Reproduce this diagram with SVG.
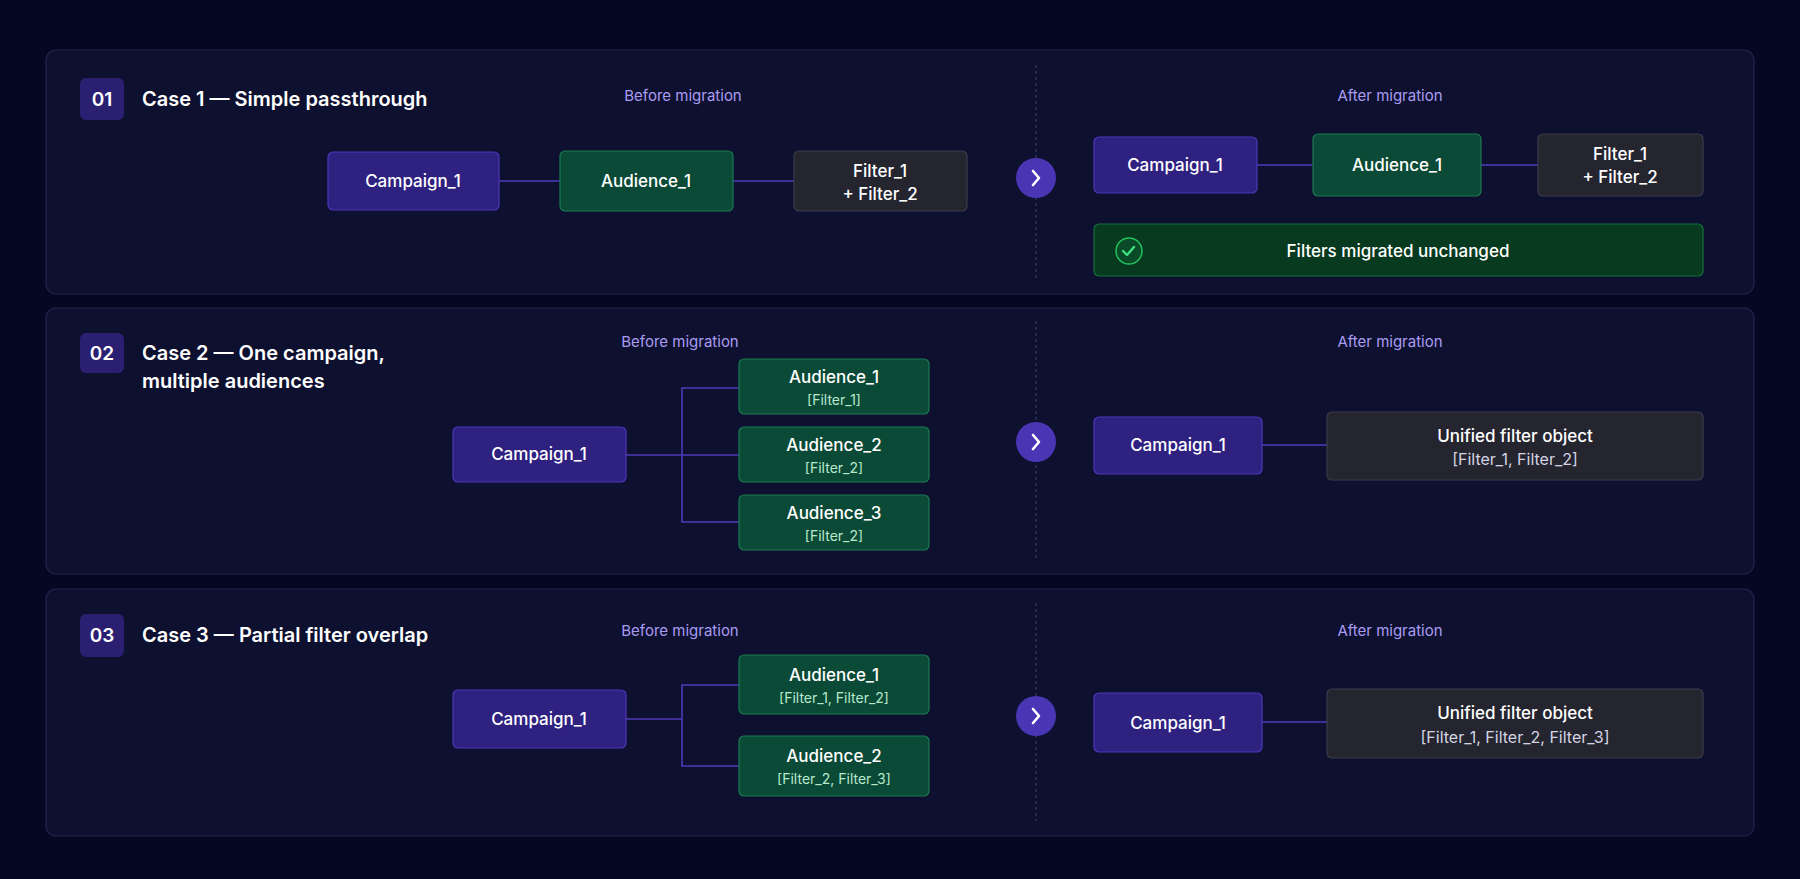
<svg xmlns="http://www.w3.org/2000/svg" width="1800" height="879" viewBox="0 0 1800 879">
<defs>
<style>
text{font-family:Inter,"Noto Sans",sans-serif}
.card{fill:#0e1030;stroke:#22244a;stroke-width:1.2}
.badge{fill:#2b1f72}
.bt{fill:#fff;font-size:19px;font-weight:600;text-anchor:middle}
.title{fill:#fff;font-size:20px;font-weight:600}
.hd{fill:#a99cf0;font-size:15px;text-anchor:middle}
.div{stroke:#3a3d66;stroke-width:1;stroke-dasharray:3 3}
.p{fill:#2f2180;stroke:#4b37b8;stroke-width:1.2}
.g{fill:#0b4a36;stroke:#1b7a52;stroke-width:1.2}
.k{fill:#24252f;stroke:#3b3c4a;stroke-width:1.2}
.nt{fill:#fff;font-size:17px;font-weight:500;text-anchor:middle}
.st{fill:#b7e9cc;font-size:14px;text-anchor:middle}
.su{fill:#d4d4e4;font-size:16px;text-anchor:middle}
.ln{stroke:#4d3ab8;stroke-width:1.6;fill:none}
.arc{fill:#4a36b5}
.chev{stroke:#fff;stroke-width:2.6;fill:none;stroke-linecap:round;stroke-linejoin:round}
</style>
</defs>
<rect width="1800" height="879" fill="#060823"/>
<g id="card1">
<rect class="card" x="46" y="50" width="1708" height="244" rx="10"/>
<rect class="badge" x="80" y="78" width="44" height="42" rx="6"/><text class="bt" x="102" y="106">01</text>
<text class="title" x="142" y="106">Case 1 — Simple passthrough</text>
<text class="hd" x="683" y="101">Before migration</text>
<text class="hd" x="1390" y="101">After migration</text>
<line class="div" x1="1036" y1="65" x2="1036" y2="279"/>
</g>
<g id="card2">
<rect class="card" x="46" y="308" width="1708" height="266" rx="10"/>
<rect class="badge" x="80" y="333" width="44" height="40" rx="6"/><text class="bt" x="102" y="360">02</text>
<text class="title" x="142" y="360">Case 2 — One campaign,</text>
<text class="title" x="142" y="388">multiple audiences</text>
<text class="hd" x="680" y="347">Before migration</text>
<text class="hd" x="1390" y="347">After migration</text>
<line class="div" x1="1036" y1="321" x2="1036" y2="560"/>
</g>
<g id="card3">
<rect class="card" x="46" y="589" width="1708" height="247" rx="10"/>
<rect class="badge" x="80" y="614" width="44" height="43" rx="6"/><text class="bt" x="102" y="642">03</text>
<text class="title" x="142" y="642">Case 3 — Partial filter overlap</text>
<text class="hd" x="680" y="636">Before migration</text>
<text class="hd" x="1390" y="636">After migration</text>
<line class="div" x1="1036" y1="603" x2="1036" y2="821"/>
</g>
<g id="connectors">
<line class="ln" x1="499" y1="181" x2="560" y2="181"/>
<line class="ln" x1="733" y1="181" x2="794" y2="181"/>
<line class="ln" x1="1257" y1="165" x2="1313" y2="165"/>
<line class="ln" x1="1481" y1="165" x2="1538" y2="165"/>
<path class="ln" d="M626 455H682M739 388H682V522H739M682 455H739"/>
<line class="ln" x1="1262" y1="445" x2="1327" y2="445"/>
<path class="ln" d="M626 719H682M739 685H682V766H739"/>
<line class="ln" x1="1262" y1="722" x2="1327" y2="722"/>
</g>
<g id="arrow1"><circle class="arc" cx="1036" cy="178" r="20"/><path class="chev" d="M1033 171l6 7-6 7"/></g>
<g id="arrow2"><circle class="arc" cx="1036" cy="442" r="20"/><path class="chev" d="M1033 435l6 7-6 7"/></g>
<g id="arrow3"><circle class="arc" cx="1036" cy="716" r="20"/><path class="chev" d="M1033 709l6 7-6 7"/></g>
<g id="c1-campaign"><rect class="p" x="328" y="152" width="171" height="58" rx="5"/><text class="nt" x="413" y="187">Campaign_1</text></g>
<g id="c1-audience"><rect class="g" x="560" y="151" width="173" height="60" rx="5"/><text class="nt" x="646" y="187">Audience_1</text></g>
<g id="c1-filter"><rect class="k" x="794" y="151" width="173" height="60" rx="5"/><text class="nt" x="880" y="177">Filter_1</text><text class="nt" x="880" y="200">+ Filter_2</text></g>
<g id="c1-after-campaign"><rect class="p" x="1094" y="137" width="163" height="56" rx="5"/><text class="nt" x="1175" y="171">Campaign_1</text></g>
<g id="c1-after-audience"><rect class="g" x="1313" y="134" width="168" height="62" rx="5"/><text class="nt" x="1397" y="171">Audience_1</text></g>
<g id="c1-after-filter"><rect class="k" x="1538" y="134" width="165" height="62" rx="5"/><text class="nt" x="1620" y="160">Filter_1</text><text class="nt" x="1620" y="183">+ Filter_2</text></g>
<g id="c1-banner"><rect x="1094" y="224" width="609" height="52" rx="5" fill="#073a1e" stroke="#15703a" stroke-width="1.2"/>
<circle cx="1129" cy="251" r="13" fill="#0a4a28" stroke="#22c55e" stroke-width="1.4"/><path d="M1123 251l4 4 7-8" stroke="#3ee07f" stroke-width="2.4" fill="none" stroke-linecap="round" stroke-linejoin="round"/>
<text class="nt" x="1398" y="257">Filters migrated unchanged</text></g>
<g id="c2-campaign"><rect class="p" x="453" y="427" width="173" height="55" rx="5"/><text class="nt" x="539" y="460">Campaign_1</text></g>
<g id="c2-aud1"><rect class="g" x="739" y="359" width="190" height="55" rx="5"/><text class="nt" x="834" y="383">Audience_1</text><text class="st" x="834" y="405">[Filter_1]</text></g>
<g id="c2-aud2"><rect class="g" x="739" y="427" width="190" height="55" rx="5"/><text class="nt" x="834" y="451">Audience_2</text><text class="st" x="834" y="473">[Filter_2]</text></g>
<g id="c2-aud3"><rect class="g" x="739" y="495" width="190" height="55" rx="5"/><text class="nt" x="834" y="519">Audience_3</text><text class="st" x="834" y="541">[Filter_2]</text></g>
<g id="c2-after-campaign"><rect class="p" x="1094" y="417" width="168" height="57" rx="5"/><text class="nt" x="1178" y="451">Campaign_1</text></g>
<g id="c2-unified"><rect class="k" x="1327" y="412" width="376" height="68" rx="5"/><text class="nt" x="1515" y="442">Unified filter object</text><text class="su" x="1515" y="465">[Filter_1, Filter_2]</text></g>
<g id="c3-campaign"><rect class="p" x="453" y="690" width="173" height="58" rx="5"/><text class="nt" x="539" y="725">Campaign_1</text></g>
<g id="c3-aud1"><rect class="g" x="739" y="655" width="190" height="59" rx="5"/><text class="nt" x="834" y="681">Audience_1</text><text class="st" x="834" y="703">[Filter_1, Filter_2]</text></g>
<g id="c3-aud2"><rect class="g" x="739" y="736" width="190" height="60" rx="5"/><text class="nt" x="834" y="762">Audience_2</text><text class="st" x="834" y="784">[Filter_2, Filter_3]</text></g>
<g id="c3-after-campaign"><rect class="p" x="1094" y="693" width="168" height="59" rx="5"/><text class="nt" x="1178" y="729">Campaign_1</text></g>
<g id="c3-unified"><rect class="k" x="1327" y="689" width="376" height="69" rx="5"/><text class="nt" x="1515" y="719">Unified filter object</text><text class="su" x="1515" y="743">[Filter_1, Filter_2, Filter_3]</text></g>
</svg>
